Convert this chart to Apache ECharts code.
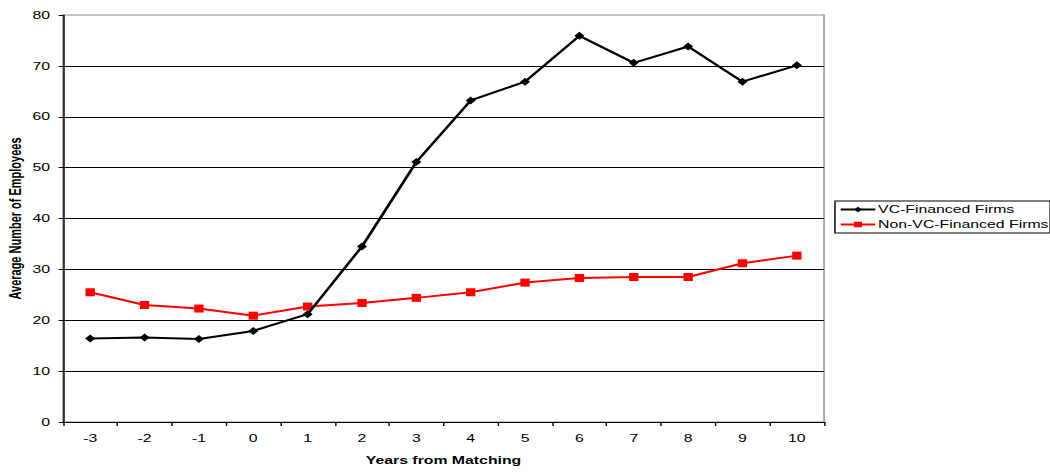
<!DOCTYPE html>
<html>
<head>
<meta charset="utf-8">
<script src="https://cdn.jsdelivr.net/npm/echarts@6/dist/echarts.min.js"></script>
<style>
  html, body { margin: 0; padding: 0; background: #fff; overflow: hidden; }
  #wrap { width: 1050px; height: 472px; overflow: hidden; }
  /* the chart is laid out narrow and widened horizontally, giving the wide lettering */
  #chart { width: 730px; height: 472px; transform: scaleX(1.43836); transform-origin: 0 0; }
</style>
</head>
<body>
<div id="wrap"><div id="chart"></div></div>
<script>
// Years relative to the matching year
const years = ['-3', '-2', '-1', '0', '1', '2', '3', '4', '5', '6', '7', '8', '9', '10'];
// Average number of employees per group
const vcFinanced = [16.4, 16.6, 16.3, 17.9, 21.2, 34.5, 51.1, 63.2, 66.9, 75.9, 70.6, 73.8, 66.9, 70.1];
const nonVcFinanced = [25.5, 23.0, 22.3, 20.9, 22.7, 23.4, 24.4, 25.5, 27.4, 28.3, 28.5, 28.5, 31.2, 32.7];
const yTicks = [0, 10, 20, 30, 40, 50, 60, 70, 80];

const font = 'Liberation Sans, Arial, sans-serif';
const chart = echarts.init(document.getElementById('chart'), null, { renderer: 'svg', width: 730, height: 472 });

chart.setOption({
  animation: false,
  backgroundColor: '#ffffff',
  textStyle: { fontFamily: font },
  grid: {
    left: 43.8, right: 157.1, top: 15, bottom: 50,
    containLabel: false,
    outerBoundsMode: 'none',
    show: true, borderColor: '#8c8c8c', borderWidth: 1, backgroundColor: 'transparent'
  },
  legend: {
    orient: 'vertical',
    left: 580.5, top: 201,
    padding: [3, 1, 3, 3],
    itemGap: 4,
    itemWidth: 24, itemHeight: 7,
    borderColor: '#000', borderWidth: 1, borderRadius: 0,
    textStyle: { fontSize: 11, color: '#000', fontFamily: font, padding: [0, 0, 0, -3] },
    data: ['VC-Financed Firms', 'Non-VC-Financed Firms']
  },
  xAxis: {
    type: 'category',
    data: years,
    boundaryGap: true,
    name: 'Years from Matching',
    nameLocation: 'middle',
    nameGap: 33,
    nameMoveOverlap: false,
    nameTextStyle: { fontSize: 11, fontWeight: 'bold', color: '#000', fontFamily: font },
    axisLine: { lineStyle: { color: '#000', width: 1 } },
    axisTick: { show: true, alignWithLabel: false, length: 4, lineStyle: { color: '#000' } },
    axisLabel: { fontSize: 11, color: '#000', margin: 11, fontFamily: font },
    splitLine: { show: false }
  },
  yAxis: {
    type: 'value',
    min: yTicks[0], max: yTicks[yTicks.length - 1], interval: yTicks[1] - yTicks[0],
    name: 'Average Number of Employees',
    nameLocation: 'middle',
    nameGap: 27,
    nameMoveOverlap: false,
    nameTextStyle: { fontSize: 11, fontWeight: 'bold', color: '#000', fontFamily: font },
    axisLine: { show: true, lineStyle: { color: '#000', width: 1 } },
    axisTick: { show: true, length: 3, lineStyle: { color: '#000' } },
    axisLabel: { fontSize: 11, color: '#000', margin: 9, fontFamily: font },
    splitLine: { show: true, showMaxLine: false, lineStyle: { color: '#000', width: 1 } }
  },
  series: [
    {
      name: 'VC-Financed Firms',
      type: 'line',
      data: vcFinanced,
      symbol: 'diamond',
      symbolSize: [7, 8],
      lineStyle: { color: '#000', width: 2 },
      itemStyle: { color: '#000' },
      z: 3
    },
    {
      name: 'Non-VC-Financed Firms',
      type: 'line',
      data: nonVcFinanced,
      symbol: 'rect',
      symbolSize: [6.5, 8],
      lineStyle: { color: '#ff0000', width: 2 },
      itemStyle: { color: '#ff0000' },
      z: 2
    }
  ]
});
</script>
</body>
</html>
